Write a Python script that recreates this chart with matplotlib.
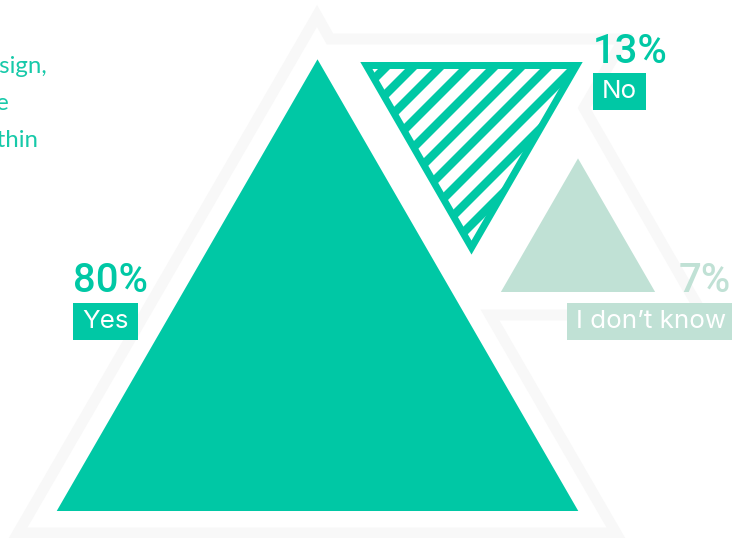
import numpy as np
import matplotlib.pyplot as plt
from matplotlib.patches import Polygon, Rectangle

# survey answers
categories = ['Yes', 'No', 'I don’t know']
shares = [80, 13, 7]
pct_labels = ['80%', '13%', '7%']

GREEN = '#00c8a5'
PALE = '#c0e1d5'
OUTLINE = '#f8f8f8'

DPI = 160
PX = 72 / DPI  # one pixel in points

fig = plt.figure(figsize=(732 / DPI, 538 / DPI), dpi=DPI)
ax = fig.add_axes([0, 0, 1, 1])
ax.set_xlim(0, 732)
ax.set_ylim(538, 0)
ax.axis('off')

# faint frame running round the three triangles
frame = [(317, 16), (330, 39), (624, 39), (584, 108), (703, 315),
         (490, 315), (616, 533), (18, 533)]
ax.add_patch(Polygon(frame, closed=True, fill=False, edgecolor=OUTLINE,
                     lw=11 * PX, joinstyle='miter', zorder=1))


def triangle(value, cx, base_y, upward=True):
    # area of each triangle follows the share
    h = 50.5 * np.sqrt(value)
    half = h / np.sqrt(3)
    tip = base_y - h if upward else base_y + h
    return np.array([(cx - half, base_y), (cx + half, base_y), (cx, tip)])


yes_tri = triangle(shares[0], 317.5, 511)
no_tri = triangle(shares[1], 471.5, 65.5, upward=False)
idk_tri = triangle(shares[2], 578, 292)

ax.add_patch(Polygon(yes_tri, closed=True, facecolor=GREEN, edgecolor='none', zorder=2))
ax.add_patch(Polygon(idk_tri, closed=True, facecolor=PALE, edgecolor='none', zorder=2))

# "No" is an outlined triangle filled with diagonal stripes
no_patch = Polygon(no_tri, closed=True, facecolor='none', edgecolor=GREEN,
                   lw=7 * PX, joinstyle='miter', zorder=3)
ax.add_patch(no_patch)
clip = Polygon(no_tri, closed=True, facecolor='none', edgecolor='none')
ax.add_patch(clip)
sums = no_tri[:, 0] + no_tri[:, 1]
step = 27
for c in np.arange(453 - step * 10, sums.max() + 30, step):
    if c < sums.min() - 10:
        continue
    ys = np.array([no_tri[:, 1].min() - 10, no_tri[:, 1].max() + 10])
    ln, = ax.plot(c - ys, ys, color=GREEN, lw=8.5 * PX, solid_capstyle='butt', zorder=2)
    ln.set_clip_path(clip)

# paragraph text running off the left edge
para_font = dict(family='Lato', fontsize=24 * PX, color='#17c9a9', ha='right',
                 va='baseline')
ax.text(47, 73, 'design,', **para_font)
ax.text(9, 110, 'the', **para_font)
ax.text(39, 147, 'within', **para_font)

pct_font = dict(family='Roboto', fontsize=40 * PX, fontweight='medium',
                va='baseline', zorder=5)
lab_font = dict(family='Inter', fontsize=26 * PX, fontweight='normal', color='white',
                va='center', zorder=6)

# (percent x, percent baseline, percent align, box left, box top, colour)
spots = [
    (73, 292, 'left', 73, 303, GREEN),
    (593, 63, 'left', 593, 73, GREEN),
    (731, 292, 'right', 567, 303, PALE),
]

fig.canvas.draw()
for (px_, py_, ha, bx, by, col), pct, cat in zip(spots, pct_labels, categories):
    ax.text(px_, py_, pct, color=col, ha=ha, **pct_font)
    t = ax.text(bx + 9, by + 18.5, cat, ha='left', **lab_font)
    bb = t.get_window_extent(renderer=fig.canvas.get_renderer())
    w = bb.width * 732 / fig.bbox.width
    ax.add_patch(Rectangle((bx, by), w + 18, 37, facecolor=col,
                           edgecolor='none', zorder=4))

fig.savefig('out.png', dpi=DPI, facecolor='white')
